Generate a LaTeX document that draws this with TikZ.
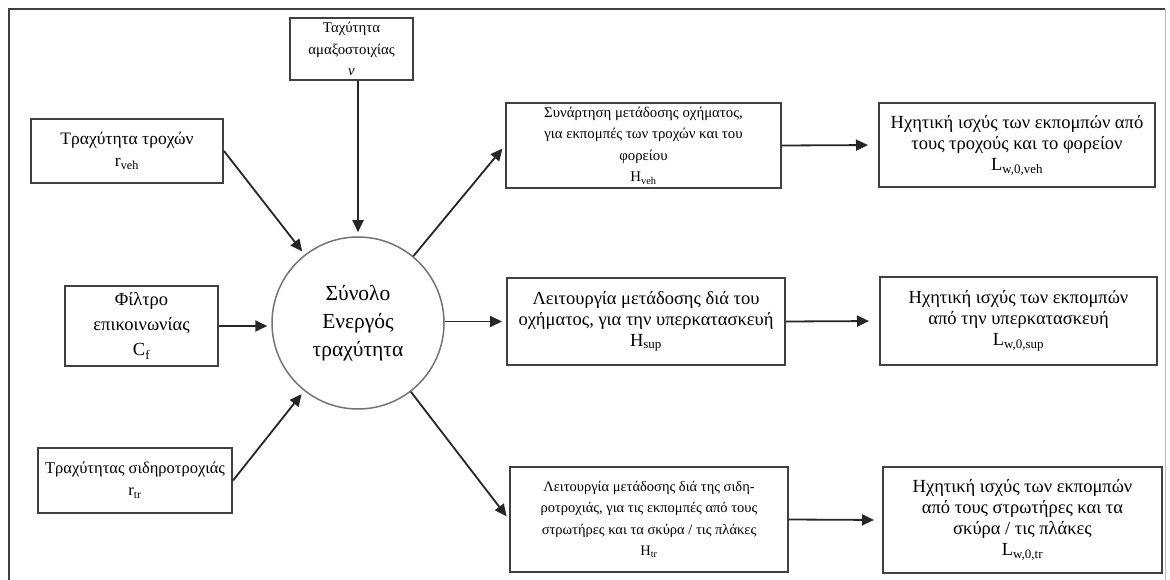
\documentclass[tikz,border=0pt]{standalone}
\usepackage{fontspec}
\setmainfont{Liberation Serif}
\usetikzlibrary{arrows.meta}

\tikzset{
  box/.style={draw=black!75, line width=2pt, fill=white, inner sep=1pt,
    align=center, font=\fontsize{18.5}{21}\selectfont},
  smallbox/.style={box, font=\fontsize{14.8}{21.5}\selectfont},
  hub/.style={draw=black!55, line width=1.5pt, circle, minimum size=172pt,
    align=center, font=\fontsize{21.5}{28}\selectfont},
  arr/.style={-{Triangle[length=12pt,width=11pt]}, line width=1.8pt, draw=black!85,
    shorten >=4pt}
}

\begin{document}
\begin{tikzpicture}[x=1pt,y=-1pt]
 \useasboundingbox (0,0) rectangle (1170,580);

 %frame
 \draw [line width=1.8pt, black!75] (9,590) -- (9,9) -- (1165,9);
 \draw [line width=0.8pt, black!25] (1165,9) -- (1165,590);

 %centre
 \node [hub] (c) at (358,323) {Σύνολο\\Ενεργός\\τραχύτητα};

 %inputs
 \node [smallbox, minimum width=123pt, minimum height=62pt] (v) at (351.5,49)
   {Ταχύτητα\\αμαξοστοιχίας\\\textit{v}};
 \node [box, font=\fontsize{17.5}{22}\selectfont, minimum width=192pt, minimum height=64pt]
   (rveh) at (127,151) {Τραχύτητα τροχών\\r\textsubscript{veh}};
 \node [box, font=\fontsize{18.5}{25}\selectfont, minimum width=153pt, minimum height=80pt]
   (cf) at (141.5,326) {Φίλτρο\\επικοινωνίας\\C\textsubscript{f}};
 \node [box, font=\fontsize{16.5}{22}\selectfont, minimum width=194pt, minimum height=65pt]
   (rtr) at (135,480.5) {Τραχύτητας σιδηροτροχιάς\\r\textsubscript{tr}};

 %transfer functions
 \node [smallbox, minimum width=275pt, minimum height=85pt] (hveh) at (643.5,145.5)
   {Συνάρτηση μετάδοσης οχήματος,\\για εκπομπές των τροχών και του\\φορείου\\H\textsubscript{veh}};
 \node [box, minimum width=278pt, minimum height=87pt] (hsup) at (646,321.5)
   {Λειτουργία μετάδοσης διά του\\οχήματος, για την υπερκατασκευή\\H\textsubscript{sup}};
 \node [smallbox, font=\fontsize{14.5}{21.5}\selectfont, minimum width=278pt, minimum height=105pt]
   (htr) at (649,519.5)
   {Λειτουργία μετάδοσης διά της σιδη-\\ροτροχιάς, για τις εκπομπές από τους\\στρωτήρες και τα σκύρα / τις πλάκες\\H\textsubscript{tr}};

 %sound power
 \node [box, minimum width=276pt, minimum height=84pt] (lveh) at (1017,145)
   {Ηχητική ισχύς των εκπομπών από\\τους τροχούς και το φορείον\\L\textsubscript{w,0,veh}};
 \node [box, minimum width=277pt, minimum height=88pt] (lsup) at (1018.5,321)
   {Ηχητική ισχύς των εκπομπών\\από την υπερκατασκευή\\L\textsubscript{w,0,sup}};
 \node [box, minimum width=279pt, minimum height=106pt] (ltr) at (1022.5,520)
   {Ηχητική ισχύς των εκπομπών\\από τους στρωτήρες και τα\\σκύρα / τις πλάκες\\L\textsubscript{w,0,tr}};

 %connectors
 \draw [arr] (c.north |- v.south) -- (c.north);
 \draw [arr] (rveh.east) -- (c);
 \draw [arr] (cf.east) -- (cf.east -| c.west);
 \draw [arr] (rtr.east) -- (c);
 \draw [arr] (c) -- (hveh.west);
 \draw [arr] (c.east |- hsup.west) -- (hsup.west);
 \draw [arr] (c) -- (htr.west);
 \draw [arr, shorten >=10pt] (hveh.east) -- (lveh.west);
 \draw [arr, shorten >=10pt] (hsup.east) -- (lsup.west);
 \draw [arr, shorten >=8pt] (htr.east) -- (ltr.west);
\end{tikzpicture}
\end{document}
